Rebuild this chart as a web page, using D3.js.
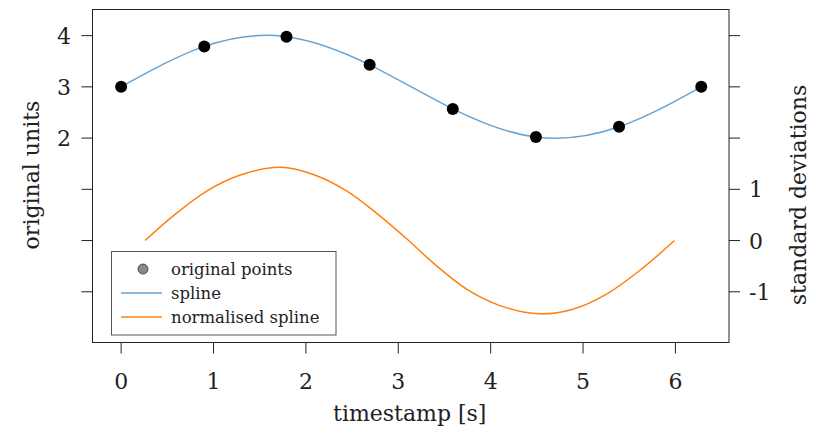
<!DOCTYPE html>
<html>
<head>
<meta charset="utf-8">
<script src="https://cdn.jsdelivr.net/npm/d3@7"></script>
<style>
  body { margin: 0; background: #fff; }
  text { font-family: "DejaVu Serif", "Liberation Serif", serif; fill: #222; }
</style>
</head>
<body>
<svg id="chart" width="816" height="435"></svg>
<script>
// original sample points
const pointTimes = [0, 0.90, 1.79, 2.69, 3.59, 4.49, 5.39, 6.28];
const pointValues = [3.00, 3.79, 3.98, 3.43, 2.57, 2.02, 2.22, 3.00];

// normalised spline
const normTimes = [0.26, 0.57, 0.93, 1.29, 1.72, 2.08, 2.44, 2.76, 3.10, 3.38, 3.74, 4.10, 4.53, 4.89, 5.25, 5.61, 5.99];
const normValues = [0, 0.49, 0.97, 1.28, 1.43, 1.29, 0.97, 0.54, 0.02, -0.44, -0.95, -1.27, -1.43, -1.34, -1.05, -0.59, 0];

const xTicks = [0, 1, 2, 3, 4, 5, 6];
const leftTicks = [4, 3, 2, 1, 0, -1];
const leftLabels = ["4", "3", "2", "", "", ""];
const rightTicks = [4, 3, 2, 1, 0, -1];
const rightLabels = ["", "", "", "1", "0", "-1"];

const svg = d3.select("#chart");
const plotLeft = 92.5, plotRight = 729, plotTop = 9.5, plotBottom = 342.5;

const x = d3.scaleLinear().domain([-0.31, 6.58]).range([plotLeft, plotRight]);
const y = d3.scaleLinear().domain([-1.99, 4.51]).range([plotBottom, plotTop]);

const blue = "#66a3d2";
const orange = "#ff7f0e";
const tickLen = 11;

// ticks
svg.append("g").selectAll("line").data(xTicks).join("line")
   .attr("x1", d => x(d)).attr("x2", d => x(d))
   .attr("y1", plotBottom).attr("y2", plotBottom + tickLen)
   .attr("stroke", "#222").attr("stroke-width", 1);
svg.append("g").selectAll("text").data(xTicks).join("text")
   .attr("x", d => x(d)).attr("y", plotBottom + 46)
   .attr("text-anchor", "middle").style("font-size", "22px")
   .text(d => d);

svg.append("g").selectAll("line").data(leftTicks).join("line")
   .attr("x1", plotLeft - tickLen).attr("x2", plotLeft)
   .attr("y1", d => y(d)).attr("y2", d => y(d))
   .attr("stroke", "#222").attr("stroke-width", 1);
svg.append("g").selectAll("text").data(leftTicks).join("text")
   .attr("x", 71).attr("y", d => y(d) + 8)
   .attr("text-anchor", "end").style("font-size", "22px")
   .text((d, i) => leftLabels[i]);

svg.append("g").selectAll("line").data(rightTicks).join("line")
   .attr("x1", plotRight).attr("x2", plotRight + tickLen)
   .attr("y1", d => y(d)).attr("y2", d => y(d))
   .attr("stroke", "#222").attr("stroke-width", 1);
svg.append("g").selectAll("text").data(rightTicks).join("text")
   .attr("x", 749).attr("y", d => y(d) + 8)
   .attr("text-anchor", "start").style("font-size", "22px")
   .text((d, i) => rightLabels[i]);

// lines
const splineLine = d3.line().x(d => x(d[0])).y(d => y(d[1])).curve(d3.curveNatural);
const normLine = d3.line().x(d => x(d[0])).y(d => y(d[1])).curve(d3.curveCatmullRom.alpha(0.5));
svg.append("path")
   .attr("d", splineLine(d3.zip(pointTimes, pointValues)))
   .attr("fill", "none").attr("stroke", blue).attr("stroke-width", 1.5);
svg.append("path")
   .attr("d", normLine(d3.zip(normTimes, normValues)))
   .attr("fill", "none").attr("stroke", orange).attr("stroke-width", 1.5);

svg.append("g").selectAll("circle").data(d3.zip(pointTimes, pointValues)).join("circle")
   .attr("cx", d => x(d[0])).attr("cy", d => y(d[1])).attr("r", 6)
   .attr("fill", "#000");

// frame
svg.append("rect")
   .attr("x", plotLeft).attr("y", plotTop)
   .attr("width", plotRight - plotLeft).attr("height", plotBottom - plotTop)
   .attr("fill", "none").attr("stroke", "#222").attr("stroke-width", 1);

// axis titles
svg.append("text")
   .attr("x", (plotLeft + plotRight) / 2 - 1).attr("y", 421)
   .attr("text-anchor", "middle").style("font-size", "22px")
   .text("timestamp [s]");
svg.append("text")
   .attr("transform", "translate(39,175) rotate(-90)")
   .attr("text-anchor", "middle").style("font-size", "22px")
   .text("original units");
svg.append("text")
   .attr("transform", "translate(806,195) rotate(-90)")
   .attr("text-anchor", "middle").style("font-size", "22px")
   .text("standard deviations");

// legend
const legend = svg.append("g");
legend.append("rect")
      .attr("x", 111.5).attr("y", 251.5).attr("width", 224.5).attr("height", 83.5)
      .attr("fill", "#fff").attr("stroke", "#555").attr("stroke-width", 1);
legend.append("circle").attr("cx", 143).attr("cy", 269).attr("r", 5)
      .attr("fill", "#888").attr("stroke", "#333").attr("stroke-width", 0.8);
legend.append("line").attr("x1", 121).attr("x2", 162).attr("y1", 293).attr("y2", 293)
      .attr("stroke", blue).attr("stroke-width", 1.5);
legend.append("line").attr("x1", 121).attr("x2", 162).attr("y1", 317).attr("y2", 317)
      .attr("stroke", orange).attr("stroke-width", 1.5);
const legendNames = ["original points", "spline", "normalised spline"];
legend.selectAll("text.item").data(legendNames).join("text")
      .attr("class", "item")
      .attr("x", 171).attr("y", (d, i) => 275 + i * 24)
      .style("font-size", "16.5px")
      .text(d => d);
</script>
</body>
</html>
